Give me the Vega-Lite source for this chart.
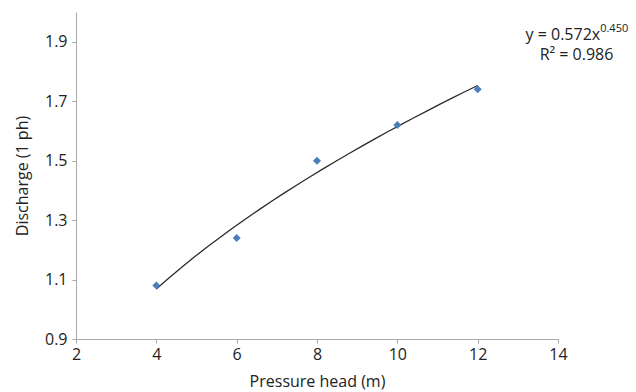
{
  "$schema": "https://vega.github.io/schema/vega-lite/v6.json",
  "autosize": "none",
  "width": 482,
  "height": 327,
  "padding": {"left": 76, "top": 12, "right": 78, "bottom": 53},
  "background": "white",
  "config": {
    "view": {"stroke": null},
    "font": "Open Sans",
    "axis": {
      "grid": false,
      "domainColor": "#a8a8a8",
      "tickColor": "#a8a8a8",
      "tickSize": 4,
      "labelFont": "Open Sans",
      "labelFontSize": 16,
      "labelColor": "#222222",
      "titleFont": "Open Sans",
      "titleFontSize": 16,
      "titleFontWeight": "normal",
      "titleColor": "#222222"
    }
  },
  "datasets": {
    "obs": [
      {"pressure": 4, "discharge": 1.08},
      {"pressure": 6, "discharge": 1.24},
      {"pressure": 8, "discharge": 1.50},
      {"pressure": 10, "discharge": 1.62},
      {"pressure": 12, "discharge": 1.74}
    ]
  },
  "layer": [
    {
      "data": {"name": "obs"},
      "transform": [
        {"regression": "discharge", "on": "pressure", "method": "pow"}
      ],
      "mark": {"type": "line", "color": "#2b2b2b", "strokeWidth": 1.3},
      "encoding": {
        "x": {
          "field": "pressure", "type": "quantitative",
          "scale": {"domain": [2, 14], "nice": false},
          "axis": {"values": [2, 4, 6, 8, 10, 12, 14], "title": "Pressure head (m)", "labelPadding": 3, "titlePadding": 11, "labelFlush": false}
        },
        "y": {
          "field": "discharge", "type": "quantitative",
          "scale": {"domain": [0.9, 2.0], "nice": false, "zero": false},
          "axis": {"values": [0.9, 1.1, 1.3, 1.5, 1.7, 1.9], "format": ".1f", "title": "Discharge (1 ph)", "labelPadding": 5, "titlePadding": 14, "labelFlush": false}
        }
      }
    },
    {
      "data": {"name": "obs"},
      "mark": {"type": "point", "shape": "diamond", "filled": true, "color": "#4a7ebb", "size": 64, "opacity": 1},
      "encoding": {
        "x": {"field": "pressure", "type": "quantitative"},
        "y": {"field": "discharge", "type": "quantitative"}
      }
    },
    {
      "data": {"values": [{"label": "y = 0.572x"}]},
      "mark": {"type": "text", "align": "right", "baseline": "alphabetic", "fontSize": 16, "color": "#222222"},
      "encoding": {
        "x": {"datum": 15.05},
        "y": {"datum": 1.907},
        "text": {"field": "label"}
      }
    },
    {
      "data": {"values": [{"label": "0.450"}]},
      "mark": {"type": "text", "align": "left", "baseline": "alphabetic", "fontSize": 11, "color": "#222222"},
      "encoding": {
        "x": {"datum": 15.05},
        "y": {"datum": 1.932},
        "text": {"field": "label"}
      }
    },
    {
      "data": {"values": [{"label": "R² = 0.986"}]},
      "mark": {"type": "text", "align": "center", "baseline": "alphabetic", "fontSize": 16, "color": "#222222"},
      "encoding": {
        "x": {"datum": 14.46},
        "y": {"datum": 1.838},
        "text": {"field": "label"}
      }
    }
  ]
}
